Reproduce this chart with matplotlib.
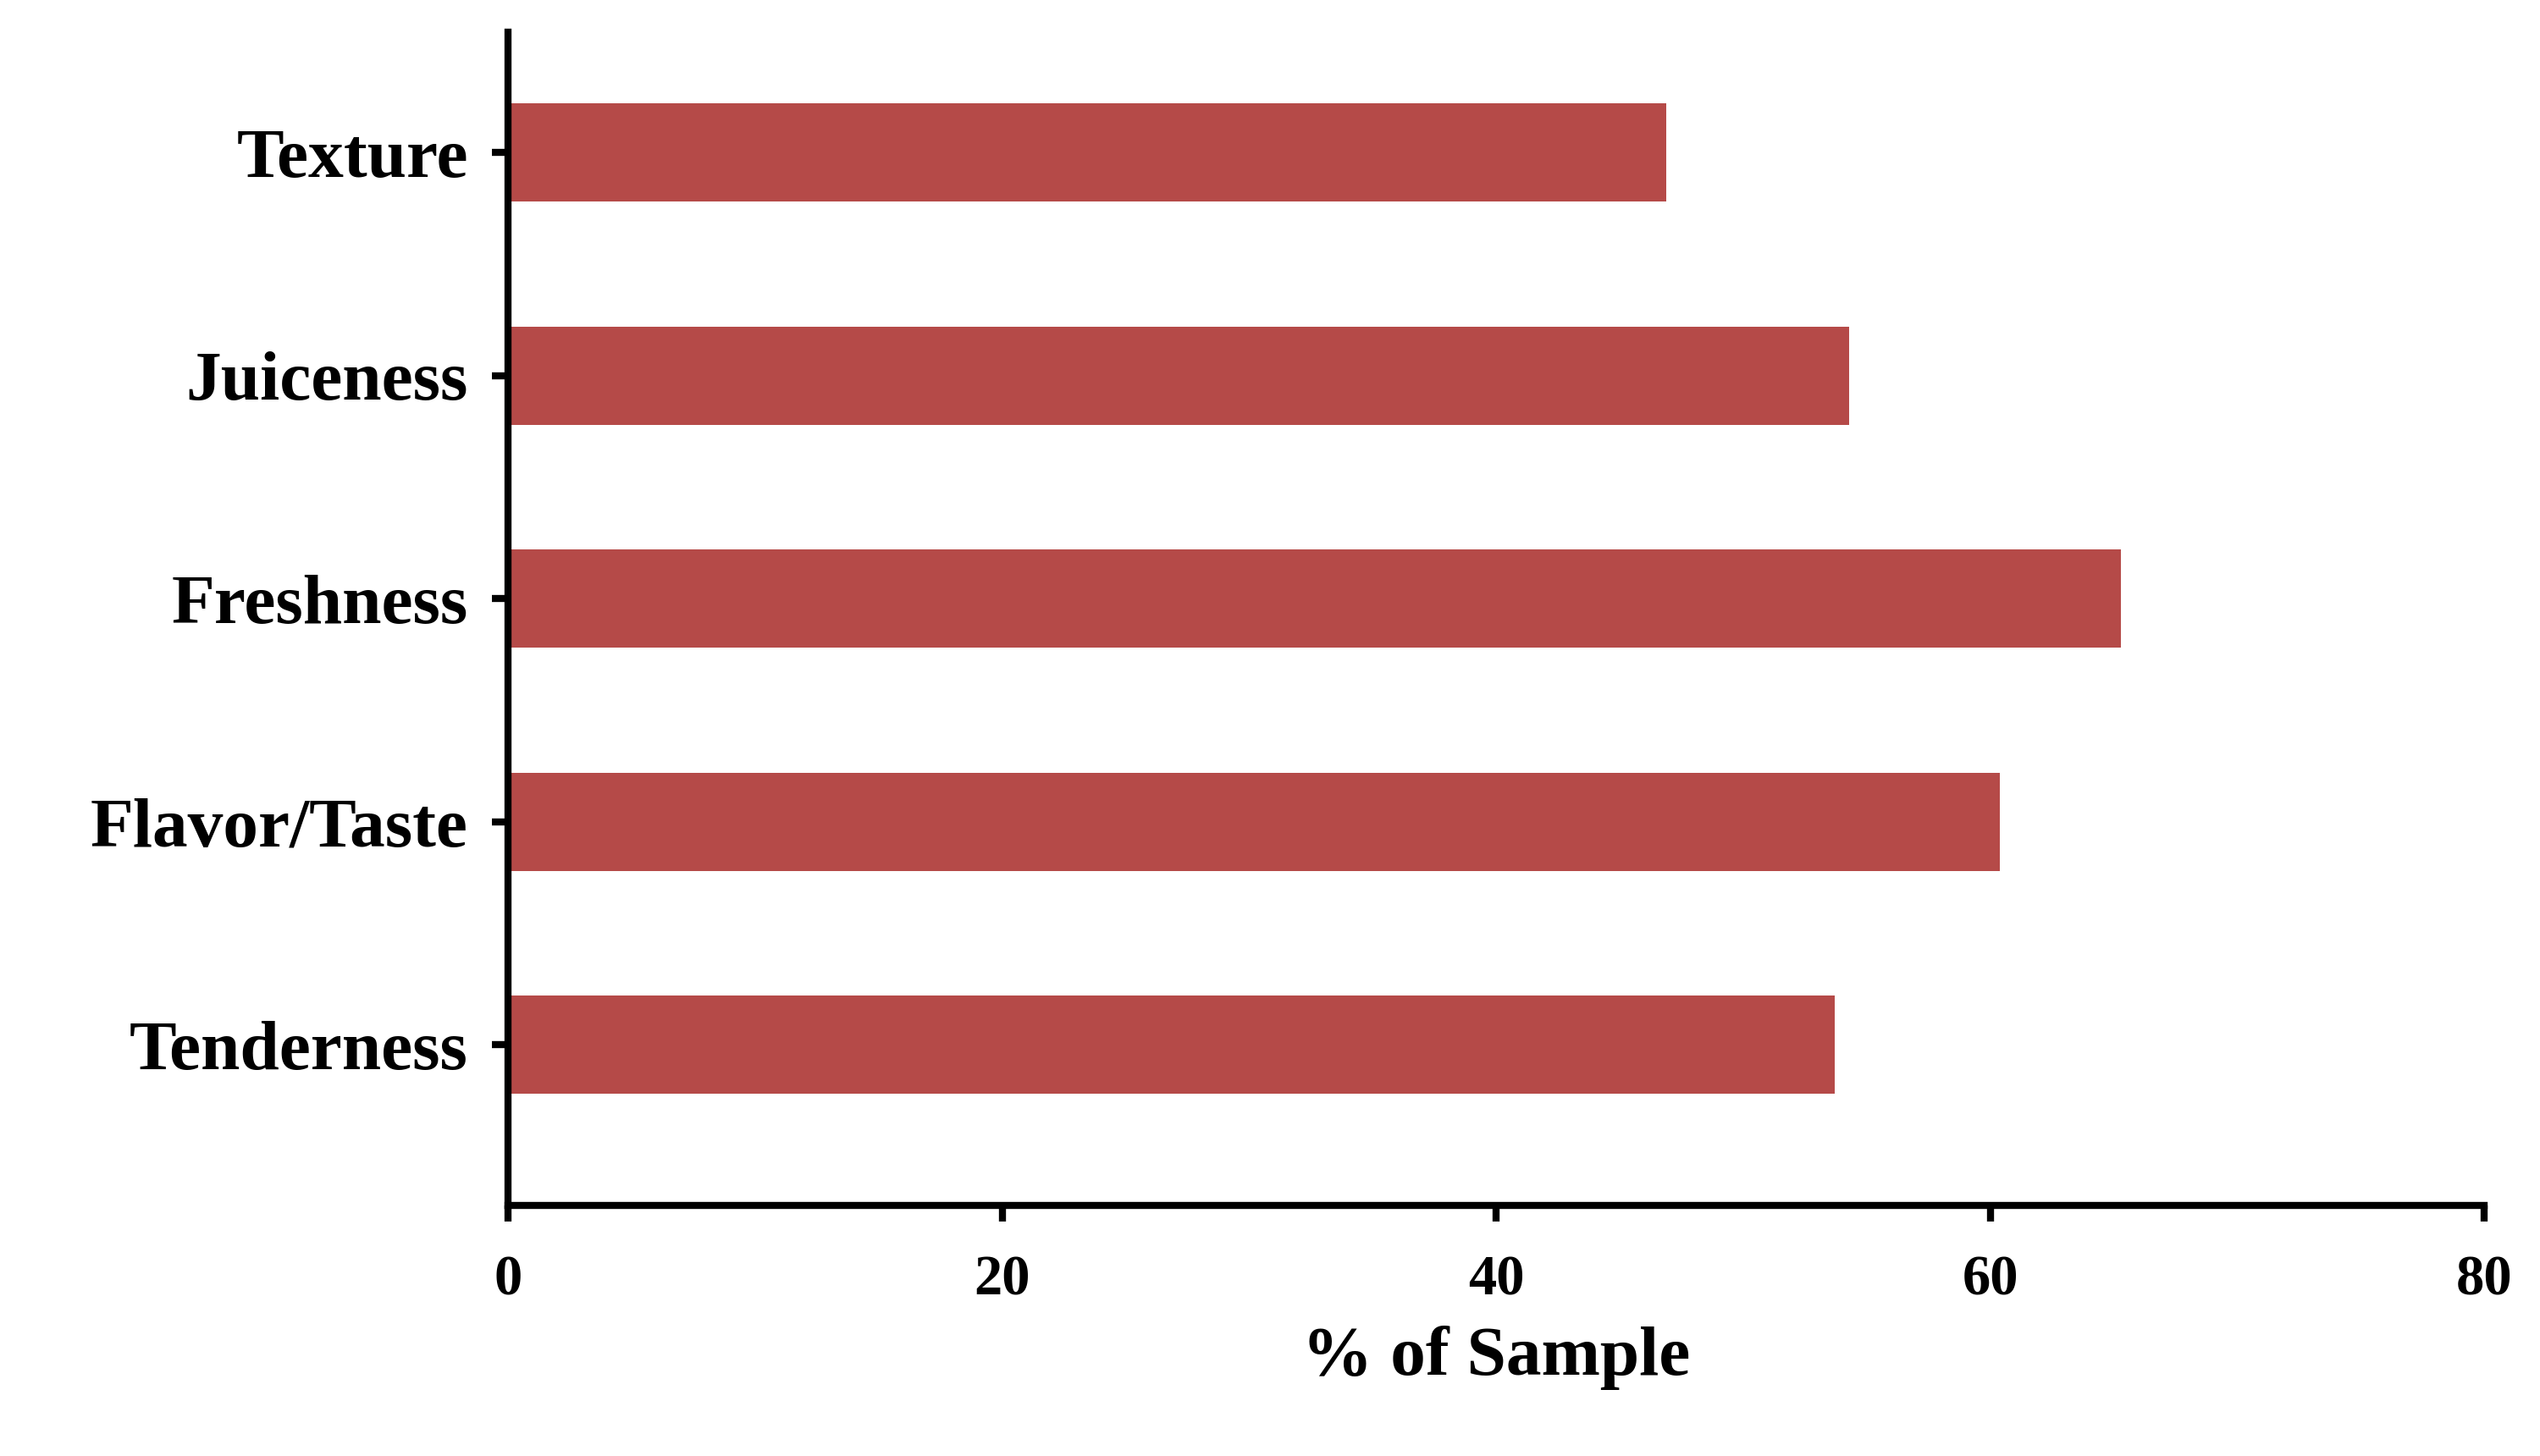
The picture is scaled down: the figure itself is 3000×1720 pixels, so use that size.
import matplotlib.pyplot as plt

categories = ["Tenderness", "Flavor/Taste", "Freshness", "Juiceness", "Texture"]
values = [53.7, 60.4, 65.3, 54.3, 46.9]
xticks = [0, 20, 40, 60, 80]

plt.rcParams["font.family"] = ["Liberation Serif", "DejaVu Serif"]
plt.rcParams["font.weight"] = "bold"

fig = plt.figure(figsize=(15, 8.6), dpi=200)
ax = fig.add_axes([0.2, 0.172, 0.778, 0.806])
ax.barh(range(len(categories)), values, height=0.44, color="#b54a48")

ax.set_xlim(0, 80)
ax.set_ylim(-0.72, 4.54)
ax.set_xticks(xticks)
ax.set_xticklabels([str(t) for t in xticks], fontsize=24, fontweight="bold")
ax.set_yticks(range(len(categories)))
ax.set_yticklabels(categories, fontsize=30, fontweight="bold")
ax.set_xlabel("% of Sample", fontsize=30, fontweight="bold", labelpad=8)

for s in ["top", "right"]:
    ax.spines[s].set_visible(False)
for s in ["left", "bottom"]:
    ax.spines[s].set_linewidth(3)
ax.tick_params(axis="both", width=3, length=7)
ax.tick_params(axis="y", pad=10)
ax.tick_params(axis="x", pad=14)

fig.savefig("out.png")
